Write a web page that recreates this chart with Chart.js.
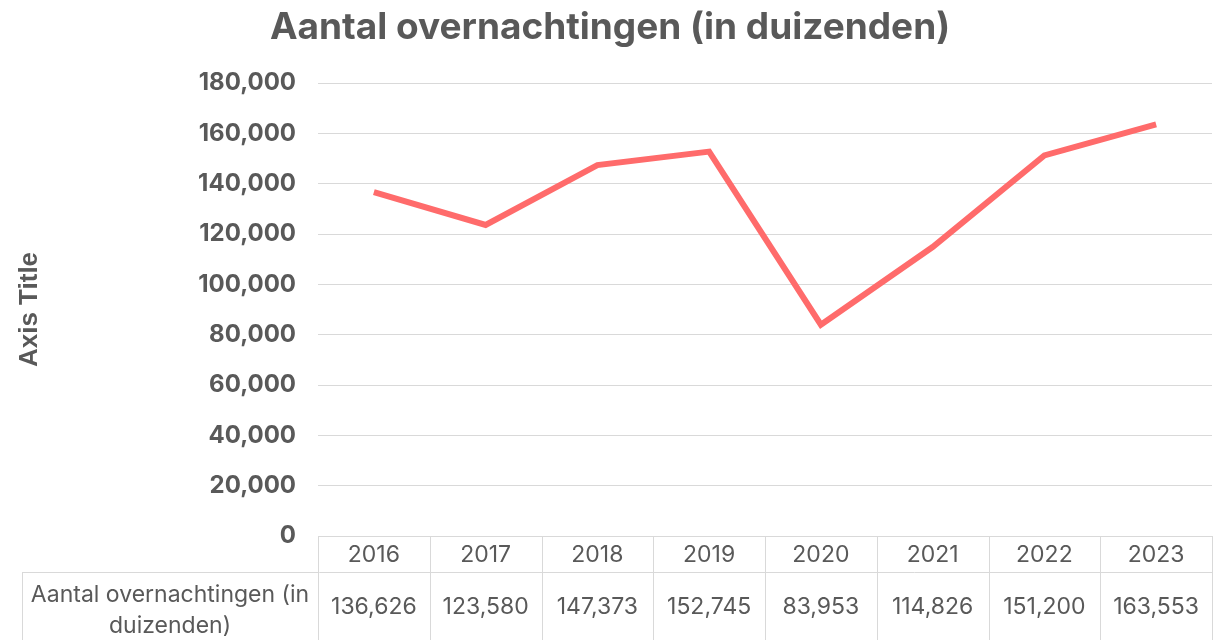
<!DOCTYPE html>
<html>
<head>
<meta charset="utf-8">
<script src="https://cdn.jsdelivr.net/npm/chart.js@4.4.0/dist/chart.umd.min.js"></script>
<style>
  body { margin: 0; background: #fff; }
  #wrap { width: 1223px; height: 640px; }
</style>
</head>
<body>
<div id="wrap"><canvas id="graph" width="1223" height="640"></canvas></div>
<script>
const years = ['2016', '2017', '2018', '2019', '2020', '2021', '2022', '2023'];
const overnachtingen = [136626, 123580, 147373, 152745, 83953, 114826, 151200, 163553];
const seriesName = 'Aantal overnachtingen (in duizenden)';
const seriesNameLines = ['Aantal overnachtingen (in', 'duizenden)'];
const chartTitle = 'Aantal overnachtingen (in duizenden)';

const grey = '#595959';
const lineGrey = '#d9d9d9';
const fontFam = 'Inter, "Open Sans", sans-serif';

const fmt = v => v.toLocaleString('en-US');

// title + data table under the plot
const tablePlugin = {
  id: 'dataTable',
  afterDraw(chart) {
    const ctx = chart.ctx;
    const x = chart.scales.x;
    const area = chart.chartArea;
    const colW = x.getPixelForValue(1) - x.getPixelForValue(0);
    const left = area.left, right = area.right;
    const top = area.bottom, mid = top + 36, bot = 640;
    const labelLeft = 22;

    ctx.save();
    ctx.fillStyle = grey;
    ctx.textAlign = 'center';
    ctx.textBaseline = 'middle';
    ctx.font = 'bold 37px ' + fontFam;
    ctx.fillText(chartTitle, 610, 28);

    ctx.strokeStyle = lineGrey;
    ctx.lineWidth = 1;
    ctx.beginPath();
    ctx.moveTo(left, top + 0.5); ctx.lineTo(right, top + 0.5);
    ctx.moveTo(labelLeft, mid + 0.5); ctx.lineTo(right, mid + 0.5);
    ctx.moveTo(labelLeft + 0.5, mid); ctx.lineTo(labelLeft + 0.5, bot);
    for (let i = 0; i <= years.length; i++) {
      const px = Math.round(left + i * colW) + 0.5;
      ctx.moveTo(px, top); ctx.lineTo(px, bot);
    }
    ctx.stroke();

    ctx.font = '23px ' + fontFam;
    years.forEach((y, i) => {
      const cx = x.getPixelForValue(i);
      ctx.fillText(y, cx, (top + mid) / 2 + 1);
      ctx.fillText(fmt(overnachtingen[i]), cx, 607);
    });
    const lx = (labelLeft + left) / 2;
    ctx.fillText(seriesNameLines[0], lx, 595);
    ctx.fillText(seriesNameLines[1], lx, 626);
    ctx.restore();
  }
};

new Chart('graph', {
  type: 'line',
  data: {
    labels: years,
    datasets: [{
      label: seriesName,
      data: overnachtingen,
      borderColor: '#ff6b6b',
      borderWidth: 6,
      pointRadius: 0,
      tension: 0,
      fill: false
    }]
  },
  options: {
    responsive: false,
    animation: false,
    layout: { padding: { top: 83, bottom: 104, right: 11, left: 0 } },
    plugins: { legend: { display: false }, title: { display: false }, tooltip: { enabled: false } },
    scales: {
      x: { display: false, offset: true },
      y: {
        min: 0, max: 180000,
        afterFit(scale) { scale.width = 318; },
        ticks: {
          stepSize: 20000,
          padding: 22,
          color: grey,
          font: { family: fontFam, size: 24, weight: 'bold' },
          callback: v => fmt(v)
        },
        grid: { color: lineGrey, drawTicks: false },
        border: { display: false },
        title: {
          display: true,
          text: 'Axis Title',
          color: grey,
          font: { family: '"Liberation Sans", Arial, sans-serif', size: 26, weight: 'bold' },
          padding: { top: 14, bottom: 0 }
        }
      }
    }
  },
  plugins: [tablePlugin]
});
</script>
</body>
</html>
